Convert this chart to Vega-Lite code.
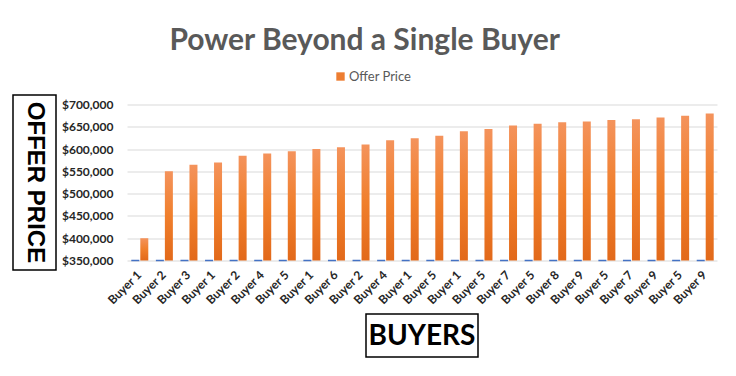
{
  "$schema": "https://vega.github.io/schema/vega-lite/v6.json",
  "background": "white",
  "padding": {"left": 12, "top": 26, "right": 10, "bottom": 10},
  "title": {"text": "Power Beyond a Single Buyer", "font": "Lato", "fontSize": 30, "fontWeight": "bold", "color": "#595959", "anchor": "middle", "offset": 14},
  "datasets": {
    "main": [
      {"buyer": "Buyer 1", "no": 1, "offer": 400000},
      {"buyer": "Buyer 2", "no": 2, "offer": 550000},
      {"buyer": "Buyer 3", "no": 3, "offer": 565000},
      {"buyer": "Buyer 1\u200b", "no": 1, "offer": 570000},
      {"buyer": "Buyer 2\u200b", "no": 2, "offer": 585000},
      {"buyer": "Buyer 4", "no": 4, "offer": 590000},
      {"buyer": "Buyer 5", "no": 5, "offer": 595000},
      {"buyer": "Buyer 1\u200b\u200b", "no": 1, "offer": 600000},
      {"buyer": "Buyer 6", "no": 6, "offer": 604000},
      {"buyer": "Buyer 2\u200b\u200b", "no": 2, "offer": 610000},
      {"buyer": "Buyer 4\u200b", "no": 4, "offer": 620000},
      {"buyer": "Buyer 1\u200b\u200b\u200b", "no": 1, "offer": 624000},
      {"buyer": "Buyer 5\u200b", "no": 5, "offer": 630000},
      {"buyer": "Buyer 1\u200b\u200b\u200b\u200b", "no": 1, "offer": 640000},
      {"buyer": "Buyer 5\u200b\u200b", "no": 5, "offer": 645000},
      {"buyer": "Buyer 7", "no": 7, "offer": 653000},
      {"buyer": "Buyer 5\u200b\u200b\u200b", "no": 5, "offer": 657000},
      {"buyer": "Buyer 8", "no": 8, "offer": 660000},
      {"buyer": "Buyer 9", "no": 9, "offer": 662000},
      {"buyer": "Buyer 5\u200b\u200b\u200b\u200b", "no": 5, "offer": 665000},
      {"buyer": "Buyer 7\u200b", "no": 7, "offer": 667000},
      {"buyer": "Buyer 9\u200b", "no": 9, "offer": 671000},
      {"buyer": "Buyer 5\u200b\u200b\u200b\u200b\u200b", "no": 5, "offer": 675000},
      {"buyer": "Buyer 9\u200b\u200b", "no": 9, "offer": 680000}
    ]
  },
  "spacing": 219,
  "bounds": "flush",
  "vconcat": [
    {
      "spacing": 71,
      "bounds": "flush",
      "center": true,
      "hconcat": [
        {
          "width": 43,
          "height": 175,
          "view": {"stroke": "black", "strokeWidth": 1.5},
          "data": {"values": [{"label": "OFFER PRICE"}]},
          "mark": {"type": "text", "angle": 90, "font": "Liberation Sans", "fontWeight": "bold", "fontSize": 24, "color": "black", "align": "center", "baseline": "middle"},
          "encoding": {"text": {"field": "label"}}
        },
        {
          "width": 590,
          "height": 156,
          "data": {"name": "main"},
          "encoding": {
            "x": {
              "field": "buyer", "type": "nominal", "sort": null,
              "scale": {"paddingInner": 0, "paddingOuter": 0},
              "axis": {"title": null, "labelAngle": -45, "labelAlign": "right", "labelBaseline": "middle", "labelFont": "Lato", "labelFontWeight": "bold", "labelFontSize": 12, "labelColor": "#262626", "ticks": false, "domain": false, "labelPadding": 12, "grid": false, "labelOverlap": false}
            }
          },
          "layer": [
            {
              "mark": {"type": "bar", "width": 8, "xOffset": -4, "fill": "#4472c4", "stroke": "#4472c4", "strokeWidth": 1.5},
              "encoding": {
                "y": {
                  "field": "no", "type": "quantitative",
                  "scale": {"domain": [350000, 700000], "nice": false, "zero": false, "clamp": true},
                  "axis": {"title": null, "values": [350000, 400000, 450000, 500000, 550000, 600000, 650000, 700000], "tickCount": 8, "format": "$,.0f", "labelFont": "Lato", "labelFontWeight": "bold", "labelFontSize": 12, "labelColor": "#262626", "labelPadding": 14, "labelOverlap": false, "ticks": false, "domain": false, "gridColor": "#d9d9d9", "gridWidth": 1}
                }
              }
            },
            {
              "mark": {"type": "bar", "width": 8, "xOffset": 5, "fill": {"gradient": "linear", "x1": 0, "y1": 0, "x2": 0, "y2": 1, "stops": [{"offset": 0, "color": "#f4935c"}, {"offset": 0.5, "color": "#f07f2c"}, {"offset": 1, "color": "#e2691a"}]}},
              "encoding": {
                "y": {"field": "offer", "type": "quantitative",
                  "axis": {"title": null, "values": [350000, 400000, 450000, 500000, 550000, 600000, 650000, 700000], "tickCount": 8, "format": "$,.0f", "labelFont": "Lato", "labelFontWeight": "bold", "labelFontSize": 12, "labelColor": "#262626", "labelPadding": 14, "labelOverlap": false, "ticks": false, "domain": false, "gridColor": "#d9d9d9", "gridWidth": 1}}
              }
            },
            {
              "mark": {"type": "bar", "width": 8, "xOffset": 5, "opacity": 0},
              "encoding": {
                "y": {"field": "offer", "type": "quantitative",
                  "axis": {"title": null, "values": [350000, 400000, 450000, 500000, 550000, 600000, 650000, 700000], "tickCount": 8, "format": "$,.0f", "labelFont": "Lato", "labelFontWeight": "bold", "labelFontSize": 12, "labelColor": "#262626", "labelPadding": 14, "labelOverlap": false, "ticks": false, "domain": false, "gridColor": "#d9d9d9", "gridWidth": 1}},
                "color": {
                  "datum": "Offer Price", "type": "nominal",
                  "scale": {"range": ["#ed7d31"]},
                  "legend": {"title": null, "orient": "none", "legendX": 321, "legendY": -25, "symbolType": "square", "symbolSize": 70, "symbolOpacity": 1, "symbolStrokeWidth": 0, "labelFont": "Lato", "labelFontSize": 13, "labelColor": "#595959", "labelOffset": 2}
                }
              }
            }
          ]
        }
      ]
    },
    {
      "spacing": 71,
      "bounds": "flush",
      "hconcat": [
        {
          "width": 282,
          "height": 43,
          "data": {"values": [{"label": ""}]},
          "mark": {"type": "text"},
          "encoding": {"text": {"field": "label"}}
        },
        {
          "width": 112,
          "height": 43,
          "view": {"stroke": "black", "strokeWidth": 1.5},
          "data": {"values": [{"label": "BUYERS"}]},
          "mark": {"type": "text", "font": "Lato", "fontWeight": "bold", "fontSize": 28, "color": "black", "align": "center", "baseline": "middle", "dy": 1},
          "encoding": {"text": {"field": "label"}}
        }
      ]
    }
  ],
  "config": {"view": {"stroke": null}}
}
